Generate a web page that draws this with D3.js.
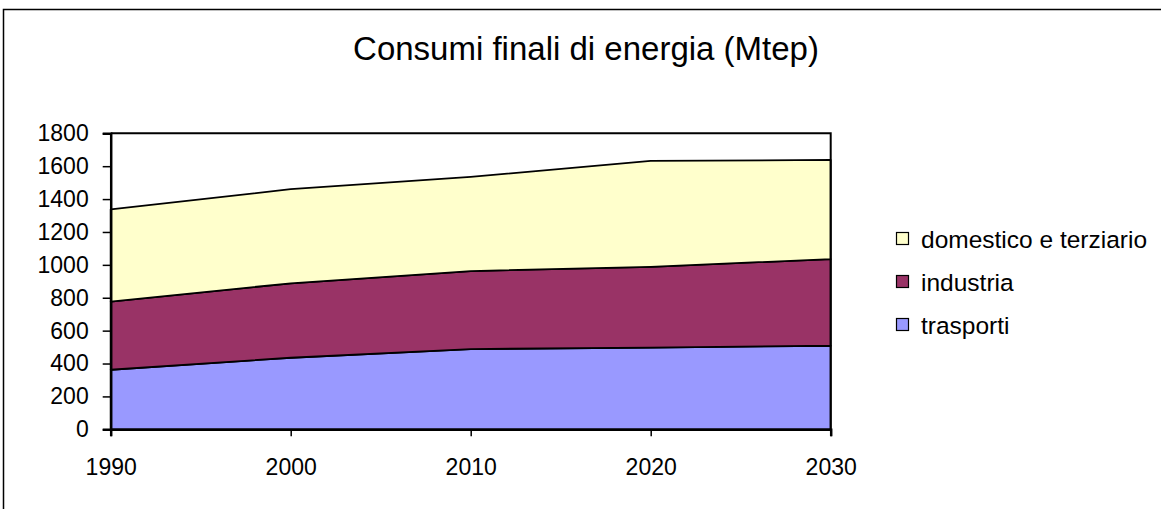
<!DOCTYPE html>
<html>
<head>
<meta charset="utf-8">
<script src="https://cdn.jsdelivr.net/npm/d3@7"></script>
<style>
  body { margin: 0; background: #fff; }
  svg { display: block; font-family: 'Liberation Sans', Arial, sans-serif; }
</style>
</head>
<body>
<svg id="chart" width="1161" height="509"></svg>
<script>
const years = [1990, 2000, 2010, 2020, 2030];
const trasporti = [362, 435, 488, 497, 508];
const industria = [414, 453, 474, 491, 527];
const domestico = [562, 572, 573, 644, 603];
const yTicks = [0, 200, 400, 600, 800, 1000, 1200, 1400, 1600, 1800];

const series = [
  { key: 'trasporti', label: 'trasporti', values: trasporti, color: '#9999ff' },
  { key: 'industria', label: 'industria', values: industria, color: '#993366' },
  { key: 'domestico', label: 'domestico e terziario', values: domestico, color: '#ffffcc' }
];

const svg = d3.select('#chart');
const plot = { left: 110.7, right: 830.7, top: 133.3, bottom: 429.3 };

// outer frame (runs off the right and bottom edge like the original)
svg.append('rect')
  .attr('x', 3.5).attr('y', 9.5)
  .attr('width', 1200).attr('height', 560)
  .attr('fill', 'none')
  .attr('stroke', '#000')
  .attr('stroke-width', 1.5);

svg.append('text')
  .attr('x', 586)
  .attr('y', 60)
  .attr('text-anchor', 'middle')
  .attr('font-size', 33)
  .text('Consumi finali di energia (Mtep)');

const x = d3.scaleLinear().domain([1990, 2030]).range([plot.left, plot.right]);
const y = d3.scaleLinear().domain([0, 1800]).range([plot.bottom, plot.top]);

const table = years.map((yr, i) => {
  const row = { year: yr };
  series.forEach(s => { row[s.key] = s.values[i]; });
  return row;
});

const stacked = d3.stack().keys(series.map(s => s.key))(table);

const area = d3.area()
  .x(d => x(d.data.year))
  .y0(d => y(d[0]))
  .y1(d => y(d[1]));

svg.selectAll('path.layer')
  .data(stacked)
  .join('path')
  .attr('class', 'layer')
  .attr('d', area)
  .attr('fill', (d, i) => series[i].color)
  .attr('stroke', '#000')
  .attr('stroke-width', 1.8)
  .attr('stroke-linejoin', 'round');

// plot area border top + right
svg.append('path')
  .attr('d', `M${plot.left},${plot.top}H${plot.right}V${plot.bottom}`)
  .attr('fill', 'none')
  .attr('stroke', '#000')
  .attr('stroke-width', 2);

const yAxis = d3.axisLeft(y).tickValues(yTicks).tickFormat(d3.format('d')).tickSize(8).tickPadding(14);
const gy = svg.append('g')
  .attr('transform', `translate(${plot.left},0)`)
  .call(yAxis);

const xAxis = d3.axisBottom(x).tickValues(years).tickFormat(d3.format('d')).tickSize(7).tickPadding(22);
const gx = svg.append('g')
  .attr('transform', `translate(0,${plot.bottom})`)
  .call(xAxis);

[gx, gy].forEach(g => {
  g.select('.domain').attr('stroke', '#000').attr('stroke-width', 2.5);
  g.selectAll('.tick line').attr('stroke', '#000').attr('stroke-width', 1.5);
  g.selectAll('.tick text')
    .attr('fill', '#000')
    .attr('font-size', 23)
    .attr('font-family', "'Liberation Sans', Arial, sans-serif");
});

// legend
const legend = svg.append('g');
const legendItems = series.slice().reverse();
legendItems.forEach((s, i) => {
  const ly = 239 + i * 43;
  legend.append('rect')
    .attr('x', 896.5).attr('y', ly - 6.5)
    .attr('width', 12).attr('height', 12)
    .attr('fill', s.color)
    .attr('stroke', '#000')
    .attr('stroke-width', 1.2);
  legend.append('text')
    .attr('x', 921)
    .attr('y', ly)
    .attr('dy', '0.36em')
    .attr('font-size', 24.5)
    .text(s.label);
});
</script>
</body>
</html>
